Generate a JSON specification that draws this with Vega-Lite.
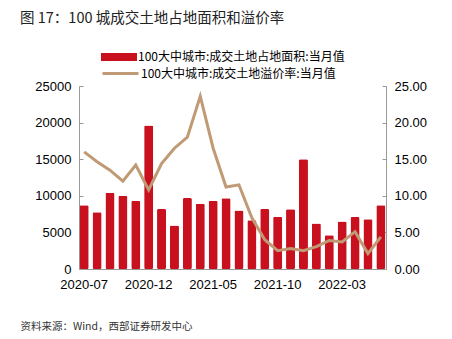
{
  "$schema": "https://vega.github.io/schema/vega-lite/v6.json",
  "width": 307,
  "height": 183,
  "autosize": "none",
  "padding": {"left": 79, "top": 86, "right": 66, "bottom": 70},
  "background": "white",
  "config": {
    "view": {"stroke": null},
    "font": "Liberation Sans",
    "axis": {"labelFont": "Liberation Sans", "labelFontSize": 12, "labelColor": "#000000", "domainColor": "#999999", "tickColor": "#999999", "grid": false},
    "legend": {"labelFont": "Noto Sans CJK SC", "labelFontSize": 12, "labelColor": "#000000", "labelLimit": 400, "padding": 0, "title": null, "orient": "none"}
  },
  "title": {
    "text": "图 17：100 城成交土地占地面积和溢价率",
    "anchor": "start",
    "frame": "group",
    "dx": -59,
    "offset": 13,
    "font": "Noto Sans CJK SC",
    "fontSize": 14.5,
    "fontWeight": "normal",
    "color": "#222222"
  },
  "data": {
    "values": [
      {"month": "2020-07", "area": 8700, "rate": 16.0},
      {"month": "2020-08", "area": 7750, "rate": 14.66},
      {"month": "2020-09", "area": 10400, "rate": 13.5},
      {"month": "2020-10", "area": 10000, "rate": 12.0},
      {"month": "2020-11", "area": 9300, "rate": 14.2},
      {"month": "2020-12", "area": 19600, "rate": 10.8},
      {"month": "2021-01", "area": 8200, "rate": 14.4},
      {"month": "2021-02", "area": 5950, "rate": 16.5},
      {"month": "2021-03", "area": 9700, "rate": 18.0},
      {"month": "2021-04", "area": 8900, "rate": 23.6},
      {"month": "2021-05", "area": 9300, "rate": 16.5},
      {"month": "2021-06", "area": 9650, "rate": 11.2},
      {"month": "2021-07", "area": 8000, "rate": 11.5},
      {"month": "2021-08", "area": 6650, "rate": 7.0},
      {"month": "2021-09", "area": 8200, "rate": 4.0},
      {"month": "2021-10", "area": 7150, "rate": 2.5},
      {"month": "2021-11", "area": 8150, "rate": 2.8},
      {"month": "2021-12", "area": 15000, "rate": 2.5},
      {"month": "2022-01", "area": 6200, "rate": 3.05},
      {"month": "2022-02", "area": 4600, "rate": 3.9},
      {"month": "2022-03", "area": 6500, "rate": 3.7},
      {"month": "2022-04", "area": 7100, "rate": 5.1},
      {"month": "2022-05", "area": 6800, "rate": 2.1},
      {"month": "2022-06", "area": 8700, "rate": 4.4}
    ]
  },
  "encoding": {
    "x": {
      "field": "month",
      "type": "ordinal",
      "sort": null,
      "scale": {"paddingInner": 0.3, "paddingOuter": 0.05},
      "axis": {
        "values": ["2020-07", "2020-12", "2021-05", "2021-10", "2022-03"],
        "labelAngle": 0,
        "ticks": false,
        "labelPadding": 9,
        "labelFontSize": 13,
        "title": "资料来源：Wind，西部证券研发中心",
        "titleFont": "Noto Sans CJK SC",
        "titleFontSize": 10.5,
        "titleFontWeight": "normal",
        "titleColor": "#333333",
        "titleAnchor": "start",
        "titleAlign": "left",
        "titleX": -59,
        "titleY": 52
      }
    }
  },
  "layer": [
    {
      "transform": [{"calculate": "'100大中城市:成交土地占地面积:当月值'", "as": "series"}],
      "mark": {"type": "bar", "cornerRadius": 1.5},
      "encoding": {
        "y": {
          "field": "area",
          "type": "quantitative",
          "scale": {"domain": [0, 25000]},
          "axis": {"title": null, "values": [0, 5000, 10000, 15000, 20000, 25000], "tickSize": -4, "labelPadding": 12, "labelFontSize": 13, "format": "d"}
        },
        "color": {
          "field": "series",
          "type": "nominal",
          "scale": {"range": ["#C8101E"]},
          "legend": {
            "legendX": 22,
            "legendY": -47,
            "symbolType": "M-1,-0.22H1V0.22H-1Z",
            "symbolSize": 1296,
            "symbolStrokeWidth": 0,
            "labelOffset": 1
          }
        }
      }
    },
    {
      "transform": [{"calculate": "'100大中城市:成交土地溢价率:当月值'", "as": "series2"}],
      "mark": {"type": "line", "strokeWidth": 3, "strokeJoin": "miter"},
      "encoding": {
        "y": {
          "field": "rate",
          "type": "quantitative",
          "scale": {"domain": [0, 25]},
          "axis": {"title": null, "orient": "right", "values": [0, 5, 10, 15, 20, 25], "format": ".2f", "tickSize": -4, "labelPadding": 12, "labelFontSize": 13}
        },
        "stroke": {
          "field": "series2",
          "type": "nominal",
          "scale": {"range": ["#BF9A74"]},
          "legend": {
            "legendX": 22,
            "legendY": -32,
            "symbolType": "stroke",
            "symbolSize": 1296,
            "symbolStrokeWidth": 3,
            "labelOffset": 1
          }
        }
      }
    }
  ],
  "resolve": {"scale": {"y": "independent"}}
}
